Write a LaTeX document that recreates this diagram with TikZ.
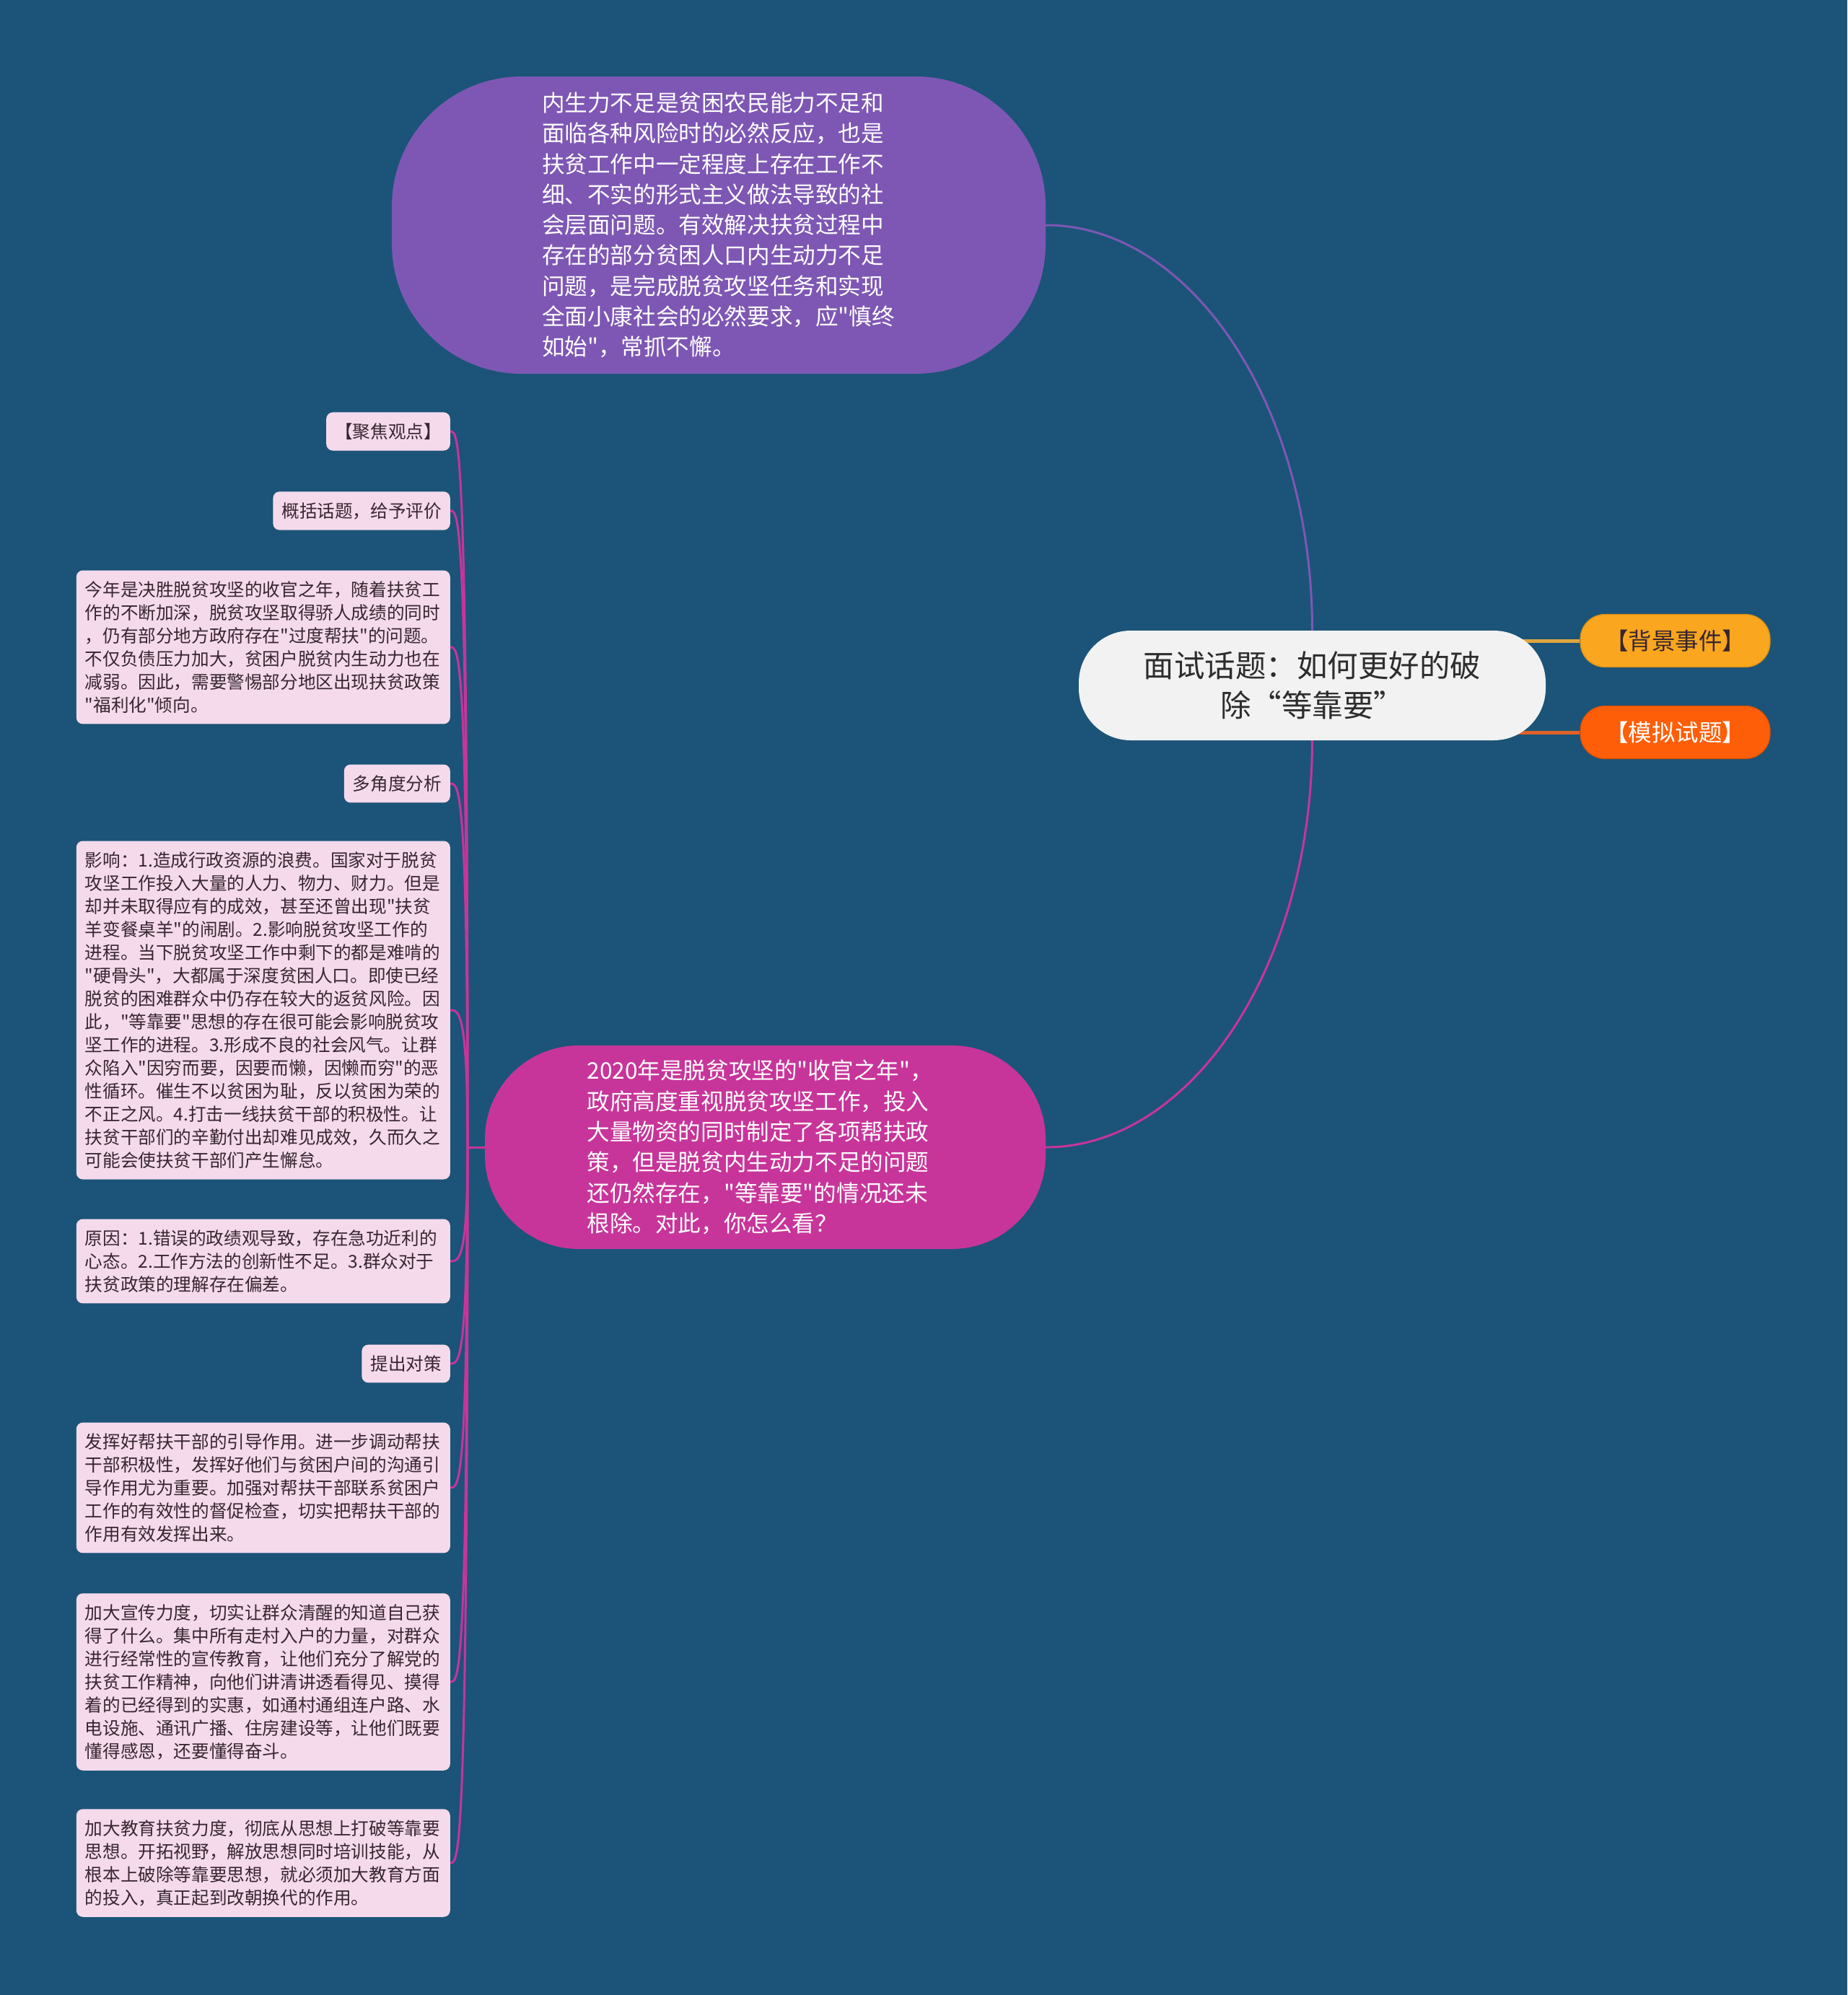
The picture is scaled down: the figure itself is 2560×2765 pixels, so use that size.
\documentclass[tikz,border=0pt]{standalone}
\usepackage{fontspec}
\setmainfont{Noto Sans CJK SC}[Ligatures=TeXOff]
\usepackage{tikz}
\definecolor{bgblue}{RGB}{27,84,120}
\definecolor{rootgray}{RGB}{242,242,242}
\definecolor{roottext}{RGB}{45,45,45}
\definecolor{topviolet}{RGB}{126,87,180}
\definecolor{midrose}{RGB}{200,53,154}
\definecolor{leafpink}{RGB}{245,218,236}
\definecolor{leaftext}{RGB}{55,38,48}
\definecolor{bgorange}{RGB}{250,166,30}
\definecolor{bglink}{RGB}{222,166,64}
\definecolor{quizorange}{RGB}{254,94,8}
\definecolor{quizlink}{RGB}{222,98,40}
\pgfdeclarelayer{backdrop}
\pgfdeclarelayer{links}
\pgfsetlayers{backdrop,links,main}

\begin{document}
\begin{tikzpicture}[
  x=1pt, y=-1pt,
  rootbox/.style={fill=rootgray, text=roottext, rounded corners=72pt, minimum width=647pt, minimum height=152pt,
    align=center, font={\fontsize{42.5}{55}\selectfont}},
  bigpill/.style={text=white, align=left, font={\fontsize{31.6}{42.3}\selectfont}},
  tagpill/.style={rounded corners=34pt, minimum width=263pt, minimum height=73pt, line width=1.2pt,
    font={\fontsize{32.5}{36}\selectfont}},
  leaf/.style={fill=leafpink, text=leaftext, rounded corners=9pt, inner xsep=12pt, inner ysep=15pt,
    align=left, anchor=east, font={\fontsize{24.6}{32}\selectfont}},
  longleaf/.style={leaf, text width=494pt},
  leaflink/.style={draw=midrose, line width=3pt}
]
\useasboundingbox (0,0) rectangle (2560,2765);
\begin{pgfonlayer}{backdrop}
\fill[bgblue] (0,0) rectangle (2560,2765);
\end{pgfonlayer}

% centre and first level
\node[rootbox] (root) at (1818.5,950) {面试话题：如何更好的破\\除“等靠要”};
\node[bigpill, fill=topviolet, rounded corners=180pt, minimum width=906pt, minimum height=412pt, text width=490pt]
  (top) at (996,312) {内生力不足是贫困农民能力不足和\\
  面临各种风险时的必然反应，也是\\
  扶贫工作中一定程度上存在工作不\\
  细、不实的形式主义做法导致的社\\
  会层面问题。有效解决扶贫过程中\\
  存在的部分贫困人口内生动力不足\\
  问题，是完成脱贫攻坚任务和实现\\
  全面小康社会的必然要求，应"慎终\\
  如始"，常抓不懈。};
\node[bigpill, fill=midrose, rounded corners=130pt, minimum width=777pt, minimum height=282pt, text width=494pt]
  (mid) at (1060.5,1590) {2020年是脱贫攻坚的"收官之年"，\\
  政府高度重视脱贫攻坚工作，投入\\
  大量物资的同时制定了各项帮扶政\\
  策，但是脱贫内生动力不足的问题\\
  还仍然存在，"等靠要"的情况还未\\
  根除。对此，你怎么看？};
\node[tagpill, fill=bgorange, draw=bgorange!85!black, text=leaftext] (bgev) at (2321.5,888) {【背景事件】};
\node[tagpill, fill=quizorange, draw=quizorange!85!black, text=white] (quiz) at (2321.5,1015) {【模拟试题】};

% left column
\node[leaf] (l1) at (624,598) {【聚焦观点】};
\node[leaf] (l2) at (624,708) {概括话题，给予评价};
\node[longleaf] (l3) at (624,897) {今年是决胜脱贫攻坚的收官之年，随着扶贫工\\
  作的不断加深，脱贫攻坚取得骄人成绩的同时\\
  ，仍有部分地方政府存在"过度帮扶"的问题。\\
  不仅负债压力加大，贫困户脱贫内生动力也在\\
  减弱。因此，需要警惕部分地区出现扶贫政策\\
  "福利化"倾向。};
\node[leaf] (l4) at (624,1086) {多角度分析};
\node[longleaf] (l5) at (624,1400) {影响：1.造成行政资源的浪费。国家对于脱贫\\
  攻坚工作投入大量的人力、物力、财力。但是\\
  却并未取得应有的成效，甚至还曾出现"扶贫\\
  羊变餐桌羊"的闹剧。2.影响脱贫攻坚工作的\\
  进程。当下脱贫攻坚工作中剩下的都是难啃的\\
  "硬骨头"，大都属于深度贫困人口。即使已经\\
  脱贫的困难群众中仍存在较大的返贫风险。因\\
  此，"等靠要"思想的存在很可能会影响脱贫攻\\
  坚工作的进程。3.形成不良的社会风气。让群\\
  众陷入"因穷而要，因要而懒，因懒而穷"的恶\\
  性循环。催生不以贫困为耻，反以贫困为荣的\\
  不正之风。4.打击一线扶贫干部的积极性。让\\
  扶贫干部们的辛勤付出却难见成效，久而久之\\
  可能会使扶贫干部们产生懈怠。};
\node[longleaf] (l6) at (624,1748) {原因：1.错误的政绩观导致，存在急功近利的\\
  心态。2.工作方法的创新性不足。3.群众对于\\
  扶贫政策的理解存在偏差。};
\node[leaf] (l7) at (624,1890) {提出对策};
\node[longleaf] (l8) at (624,2062) {发挥好帮扶干部的引导作用。进一步调动帮扶\\
  干部积极性，发挥好他们与贫困户间的沟通引\\
  导作用尤为重要。加强对帮扶干部联系贫困户\\
  工作的有效性的督促检查，切实把帮扶干部的\\
  作用有效发挥出来。};
\node[longleaf] (l9) at (624,2331) {加大宣传力度，切实让群众清醒的知道自己获\\
  得了什么。集中所有走村入户的力量，对群众\\
  进行经常性的宣传教育，让他们充分了解党的\\
  扶贫工作精神，向他们讲清讲透看得见、摸得\\
  着的已经得到的实惠，如通村通组连户路、水\\
  电设施、通讯广播、住房建设等，让他们既要\\
  懂得感恩，还要懂得奋斗。};
\node[longleaf] (l10) at (624,2582) {加大教育扶贫力度，彻底从思想上打破等靠要\\
  思想。开拓视野，解放思想同时培训技能，从\\
  根本上破除等靠要思想，就必须加大教育方面\\
  的投入，真正起到改朝换代的作用。};

% connectors, kept under the nodes
\begin{pgfonlayer}{links}
\draw[topviolet, line width=3pt] (top.east) .. controls +(203,0) and +(0,-309) .. (root.north);
\draw[midrose, line width=3pt] (root.south) .. controls +(0,310) and +(203,0) .. (mid.east);
\draw[bglink, line width=5pt] (root.center |- bgev.west) -- (bgev.west);
\draw[quizlink, line width=5pt] (root.center |- quiz.west) -- (quiz.west);
\coordinate (hub) at (648,1590);
\draw[leaflink] (mid.west) -- (hub);
\draw[leaflink] (hub) .. controls (hub |- l1.east) and +(12,0) .. (l1.east);
\draw[leaflink] (hub) .. controls (hub |- l2.east) and +(12,0) .. (l2.east);
\draw[leaflink] (hub) .. controls (hub |- l3.east) and +(12,0) .. (l3.east);
\draw[leaflink] (hub) .. controls (hub |- l4.east) and +(12,0) .. (l4.east);
\draw[leaflink] (hub) .. controls (hub |- l5.east) and +(12,0) .. (l5.east);
\draw[leaflink] (hub) .. controls (hub |- l6.east) and +(12,0) .. (l6.east);
\draw[leaflink] (hub) .. controls (hub |- l7.east) and +(12,0) .. (l7.east);
\draw[leaflink] (hub) .. controls (hub |- l8.east) and +(12,0) .. (l8.east);
\draw[leaflink] (hub) .. controls (hub |- l9.east) and +(12,0) .. (l9.east);
\draw[leaflink] (hub) .. controls (hub |- l10.east) and +(12,0) .. (l10.east);
\end{pgfonlayer}
\end{tikzpicture}
\end{document}
